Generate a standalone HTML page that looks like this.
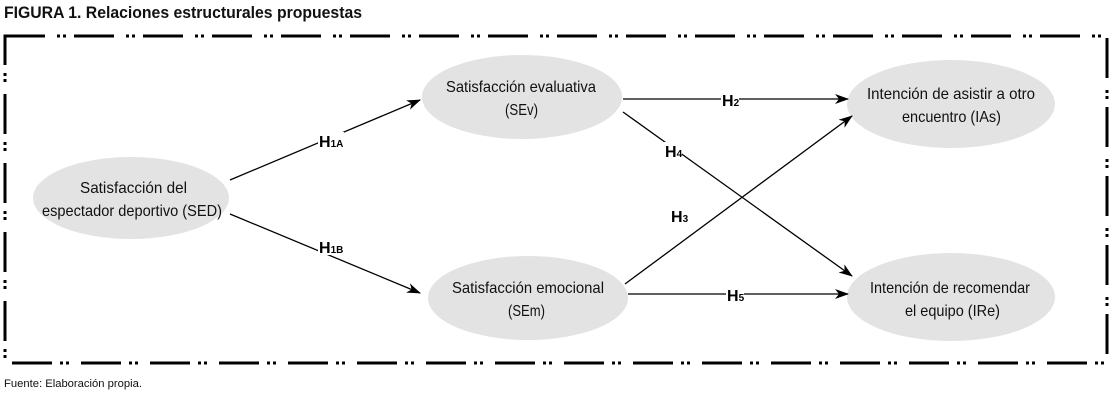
<!DOCTYPE html>
<html><head><meta charset="utf-8"><style>
html,body{margin:0;padding:0;background:#fff;}
svg{display:block;font-family:"Liberation Sans Narrow","Liberation Sans",sans-serif;}
</style></head><body>
<svg width="1115" height="400" viewBox="0 0 1115 400" xmlns="http://www.w3.org/2000/svg">
<defs>
<marker id="a" markerWidth="14" markerHeight="10" refX="13" refY="5" orient="auto" markerUnits="userSpaceOnUse">
<path d="M0,0 L14,5 L0,10 L4,5 Z" fill="#000"/></marker>
</defs>
<text x="4" y="18" font-size="17" font-weight="bold" fill="#111" textLength="358" lengthAdjust="spacingAndGlyphs">FIGURA 1. Relaciones estructurales propuestas</text>
<rect x="5" y="36" width="1102" height="327" fill="none" stroke="#000" stroke-width="3" stroke-dasharray="40 12 3 3 3 8"/>
<g fill="#e3e3e3">
<ellipse cx="131" cy="198" rx="98" ry="41"/>
<ellipse cx="522" cy="97" rx="100" ry="42"/>
<ellipse cx="528" cy="298" rx="100" ry="42"/>
<ellipse cx="951" cy="104" rx="104" ry="44"/>
<ellipse cx="951" cy="297" rx="104" ry="44"/>
</g>
<g stroke="#000" stroke-width="1.3" fill="none" marker-end="url(#a)">
<line x1="230" y1="180" x2="420" y2="100"/>
<line x1="230" y1="214" x2="420" y2="293"/>
<line x1="623" y1="99" x2="848" y2="99"/>
<line x1="623" y1="112" x2="852" y2="276"/>
<line x1="625" y1="284" x2="852" y2="116"/>
<line x1="628" y1="294" x2="848" y2="294"/>
</g>
<g font-size="16" fill="#111" lengthAdjust="spacingAndGlyphs">
<text x="80" y="193" textLength="107" lengthAdjust="spacingAndGlyphs">Satisfacción del</text>
<text x="42" y="216" textLength="180" lengthAdjust="spacingAndGlyphs">espectador deportivo (SED)</text>
<text x="446" y="92" textLength="150" lengthAdjust="spacingAndGlyphs">Satisfacción evaluativa</text>
<text x="505" y="115" textLength="33" lengthAdjust="spacingAndGlyphs">(SEv)</text>
<text x="452" y="293" textLength="152" lengthAdjust="spacingAndGlyphs">Satisfacción emocional</text>
<text x="508" y="316" textLength="37" lengthAdjust="spacingAndGlyphs">(SEm)</text>
<text x="867" y="99" textLength="168" lengthAdjust="spacingAndGlyphs">Intención de asistir a otro</text>
<text x="902" y="122" textLength="99" lengthAdjust="spacingAndGlyphs">encuentro (IAs)</text>
<text x="870" y="293" textLength="160" lengthAdjust="spacingAndGlyphs">Intención de recomendar</text>
<text x="905" y="316" textLength="95" lengthAdjust="spacingAndGlyphs">el equipo (IRe)</text>
</g>
<g font-size="16" font-weight="bold" fill="#000">
<rect x="318" y="132" width="26" height="17" fill="#fff"/>
<text x="319" y="147">H<tspan font-size="10">1A</tspan></text>
<rect x="318" y="238" width="26" height="17" fill="#fff"/>
<text x="319" y="253">H<tspan font-size="10">1B</tspan></text>
<rect x="721" y="91" width="18" height="17" fill="#fff"/>
<text x="722" y="106">H<tspan font-size="10">2</tspan></text>
<rect x="664" y="142" width="18" height="17" fill="#fff"/>
<text x="665" y="157">H<tspan font-size="10">4</tspan></text>
<rect x="670" y="207" width="18" height="17" fill="#fff"/>
<text x="671" y="222">H<tspan font-size="10">3</tspan></text>
<rect x="726" y="286" width="18" height="17" fill="#fff"/>
<text x="727" y="301">H<tspan font-size="10">5</tspan></text>
</g>
<text x="4" y="387" font-size="11" fill="#111" textLength="138" lengthAdjust="spacingAndGlyphs">Fuente: Elaboración propia.</text>
</svg>
</body></html>
